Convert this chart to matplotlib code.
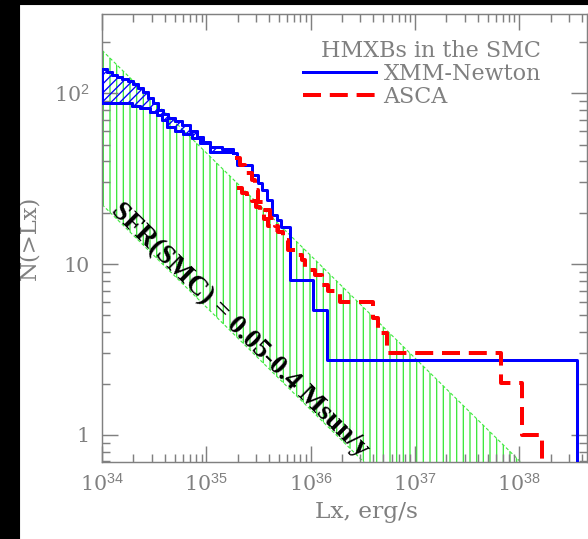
import numpy as np
import matplotlib
matplotlib.use('Agg')
import matplotlib.pyplot as plt
from matplotlib.patches import Rectangle
from matplotlib.ticker import FixedLocator, FuncFormatter, LogLocator, NullFormatter

# ---------------- data ----------------
band_L = [1e34, 1e39]
band_hi = [178.0, 0.178]     # SFR = 0.4
band_lo = [22.3, 0.0223]     # SFR = 0.05

xmm_hi_L = [1.00e34, 1.12e34, 1.25e34, 1.39e34, 1.56e34, 1.77e34, 1.98e34, 2.21e34,
            2.47e34, 2.76e34, 3.08e34, 3.44e34, 3.85e34, 4.30e34, 5.01e34, 5.85e34,
            6.98e34, 8.15e34, 9.30e34, 1.08e35, 1.42e35, 1.80e35, 1.97e35, 2.74e35,
            3.13e35, 3.42e35, 3.82e35, 4.27e35, 4.76e35, 5.20e35, 6.34e35, 1.05e36,
            1.44e36, 3.58e38]
xmm_hi_N = [138, 133, 127, 124, 121, 117, 113, 107,
            101, 93.5, 87.4, 79.6, 75.4, 71.4, 68.6, 65.0,
            60.0, 55.3, 51.7, 48.3, 47.1, 44.6, 37.9, 33.1,
            29.8, 27.1, 23.7, 19.4, 18.1, 16.5, 8.05, 5.38,
            2.75, 0.3]
xmm_lo_L = [1.00e34, 1.94e34, 2.31e34, 2.88e34, 3.37e34, 3.76e34, 4.20e34, 5.01e34,
            5.98e34, 7.29e34, 8.71e34, 1.08e35, 1.80e35]
xmm_lo_N = [87.4, 83.9, 81.7, 77.4, 74.4, 69.5, 63.3, 60.0,
            57.5, 54.6, 51.0, 45.2, 44.6]

asca_hi_L = [1.88e35, 2.10e35, 2.35e35, 2.74e35, 2.93e35, 3.13e35, 3.50e35, 4.08e35,
             4.56e35, 4.86e35, 5.43e35, 6.07e35, 7.41e35, 8.28e35, 8.84e35, 1.10e36,
             1.29e36, 1.47e36, 1.91e36, 3.97e36, 4.43e36, 5.40e36, 6.70e37, 1.06e38,
             1.66e38]
asca_hi_N = [41.7, 37.9, 34.1, 31.0, 27.1, 23.1, 20.7, 18.6,
             16.7, 15.4, 13.8, 12.1, 11.3, 10.5, 9.2, 8.6,
             7.5, 6.95, 6.0, 4.83, 3.95, 3.0, 2.01, 1.0,
             0.3]
asca_lo_L = [1.97e35, 2.20e35, 2.45e35, 2.74e35, 3.00e35, 3.27e35, 3.57e35, 3.91e35,
             4.27e35, 4.86e35]
asca_lo_N = [27.8, 26.0, 24.3, 23.4, 21.5, 19.9, 18.3, 16.7, 15.8, 15.4]

x_major = [1e34, 1e35, 1e36, 1e37, 1e38]
y_major = [1, 10, 100]
y_labels = ['1', '10', '10$^2$']

legend_title = 'HMXBs in the SMC'
label_xmm = 'XMM-Newton'
label_asca = 'ASCA'
sfr_text = 'SFR(SMC) = 0.05-0.4 Msun/y'

# ---------------- style ----------------
plt.rcParams['font.family'] = ['DejaVu Serif']
plt.rcParams['mathtext.fontset'] = 'custom'
plt.rcParams['mathtext.rm'] = 'Liberation Sans'
plt.rcParams['mathtext.it'] = 'Liberation Sans'
plt.rcParams['mathtext.default'] = 'rm'
plt.rcParams['hatch.linewidth'] = 1.2

GRAY = '#808080'
GREEN = '#3fe83f'
BLUE = '#0000ff'
RED = '#ff0000'
FS = 18.5
FS_LEG = 20

DPI = 80
fig = plt.figure(figsize=(588 / DPI, 539 / DPI), dpi=DPI, facecolor='white')
ax = fig.add_axes([102 / 588, 77 / 539, 485 / 588, 448 / 539])
ax.set_xscale('log')
ax.set_yscale('log')

# green SFR band
ax.fill_between(band_L, band_lo, band_hi, facecolor='none', edgecolor=GREEN,
                hatch='||', linewidth=0, zorder=1)
ax.plot(band_L, band_hi, color=GREEN, lw=1.0, dashes=(3, 2), zorder=1.5)
ax.plot(band_L, band_lo, color=GREEN, lw=1.0, dashes=(3, 2), zorder=1.5)

# blue XMM band
hiL = np.array(xmm_hi_L); hiN = np.array(xmm_hi_N)
loL = np.array(xmm_lo_L); loN = np.array(xmm_lo_N)
grid = np.union1d(loL, hiL[hiL <= loL[-1]])
up = hiN[np.searchsorted(hiL, grid, side='right') - 1]
lo = loN[np.searchsorted(loL, grid, side='right') - 1]
ax.fill_between(grid, lo, up, step='post', facecolor='none', edgecolor=BLUE,
                hatch='///', linewidth=2.7, zorder=3)
ax.plot(xmm_lo_L, xmm_lo_N, drawstyle='steps-post', color=BLUE, lw=2.7, zorder=3)
ax.plot(xmm_hi_L, xmm_hi_N, drawstyle='steps-post', color=BLUE, lw=2.7, zorder=3,
        label=label_xmm)

# red ASCA
ax.plot(asca_hi_L, asca_hi_N, drawstyle='steps-post', color=RED, lw=3.6,
        dashes=(4.5, 2.2), zorder=4, label=label_asca)
ax.plot(asca_lo_L, asca_lo_N, drawstyle='steps-post', color=RED, lw=3.6,
        dashes=(4.5, 2.2), zorder=4)

ax.set_xlim(1e34, 4.47e38)
ax.set_ylim(0.695, 290)

# ticks
ax.xaxis.set_major_locator(FixedLocator(x_major))
ax.xaxis.set_major_formatter(FuncFormatter(lambda v, p: '10$^{%d}$' % round(np.log10(v))))
ax.xaxis.set_minor_locator(LogLocator(base=10, subs=np.arange(2, 10)))
ax.xaxis.set_minor_formatter(NullFormatter())
ax.yaxis.set_major_locator(FixedLocator(y_major))
ax.yaxis.set_major_formatter(FuncFormatter(lambda v, p: y_labels[y_major.index(round(v))]
                                           if round(v) in y_major else ''))
ax.yaxis.set_minor_locator(LogLocator(base=10, subs=np.arange(2, 10)))
ax.yaxis.set_minor_formatter(NullFormatter())
ax.tick_params(which='both', direction='in', top=True, right=True, colors=GRAY,
               width=1.3, labelsize=FS)
ax.tick_params(which='major', length=14.4)
ax.tick_params(which='minor', length=7)
ax.tick_params(axis='x', which='major', pad=10)
ax.tick_params(axis='y', which='major', pad=11)
for sp in ax.spines.values():
    sp.set_color(GRAY)
    sp.set_linewidth(1.3)

ax.set_xlabel('Lx, erg/s', fontsize=21, color=GRAY)
ax.xaxis.set_label_coords(0.545, -0.088)
ax.set_ylabel('N(>Lx)', fontsize=20.5, color=GRAY)
ax.yaxis.set_label_coords(-0.127, 0.5)

leg = ax.legend(title=legend_title, loc='upper right', bbox_to_anchor=(0.905, 0.942),
                frameon=False, fontsize=FS_LEG, title_fontsize=FS_LEG, handlelength=3.25,
                handletextpad=0.36, labelspacing=0.05, borderpad=0, borderaxespad=0,
                alignment='right', labelcolor=GRAY)
leg.get_title().set_color(GRAY)

# rotated SFR label
ax.text(2.10e35, 4.11, sfr_text, rotation=-44.5, rotation_mode='anchor',
        ha='center', va='center', fontsize=25, fontweight='bold',
        family='Liberation Serif', color='black', zorder=5)

# black margins of the original picture
fig.add_artist(Rectangle((0, 0), 19 / 588, 1, transform=fig.transFigure,
                         color='black', zorder=10))
fig.add_artist(Rectangle((0, 1 - 4 / 539), 1, 4 / 539, transform=fig.transFigure,
                         color='black', zorder=10))

fig.savefig('out.png', dpi=DPI, facecolor='white')
